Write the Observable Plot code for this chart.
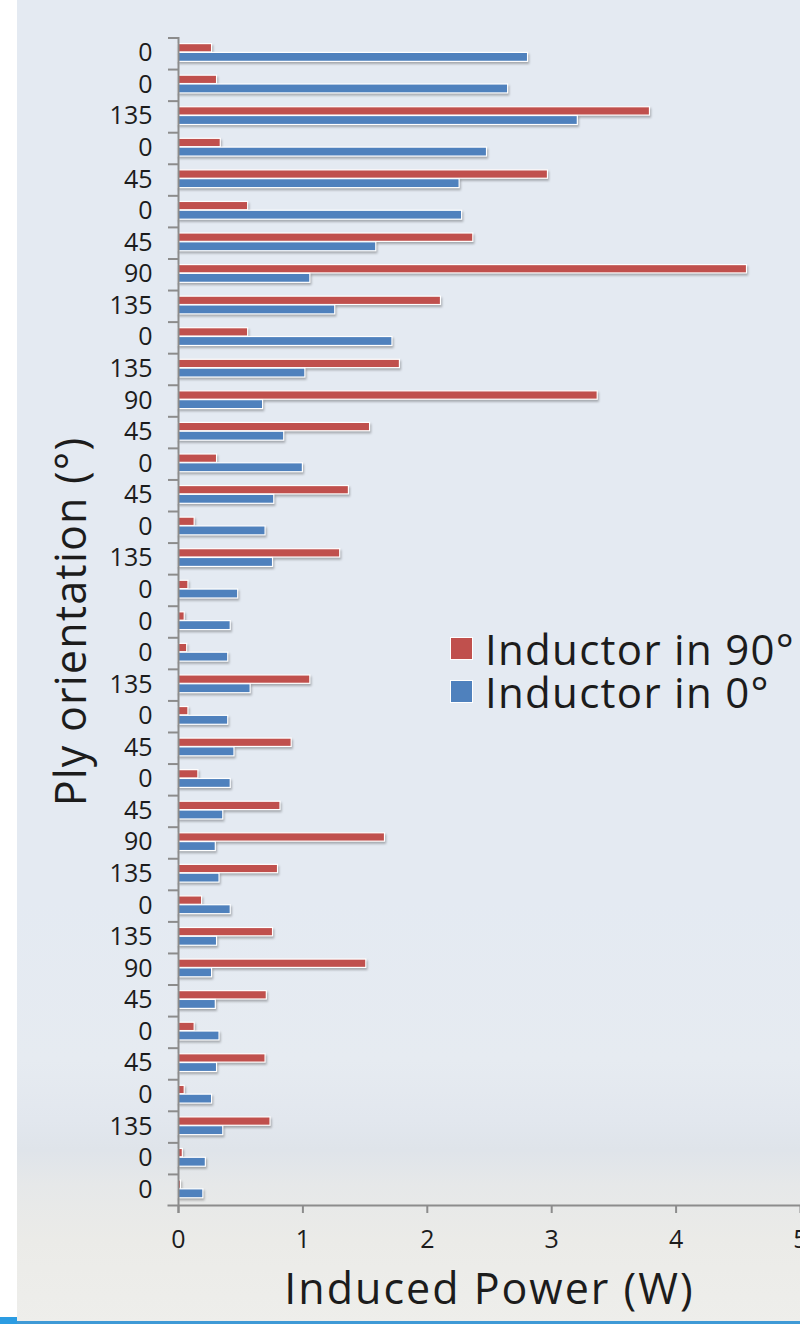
<!DOCTYPE html>
<html>
<head>
<meta charset="utf-8">
<script src="https://cdn.jsdelivr.net/npm/d3@7"></script>
<script src="https://cdn.jsdelivr.net/npm/@observablehq/plot@0.6"></script>
<style>
  html, body { margin: 0; padding: 0; background: #ffffff; }
  #wrap {
    position: relative; width: 800px; height: 1324px; overflow: hidden;
    background:
      linear-gradient(to right, #ffffff 0px, #ffffff 17px, rgba(255,255,255,0) 17px),
      linear-gradient(to bottom, #e4eaf2 0px, #e4eaf2 900px, #e6ebf1 1060px, #e2e7ee 1120px, #dfe4ea 1150px, #e6e8e9 1185px, #ebebe8 1240px, #eeeeeb 1324px);
  }
  #blueline { position: absolute; left: 0; top: 1321px; width: 800px; height: 3px; background: #3f9ad6; }
  #bluecorner { position: absolute; left: 0; top: 1317px; width: 17px; height: 7px; background: #2c9ce2; }
  #legend { position: absolute; left: 451px; top: 627px; font-family: "Open Sans", sans-serif; font-size: 42px; letter-spacing: 1.3px; color: #1c1c1c; line-height: 43px; }
  #legend .row { display: flex; align-items: center; height: 43px; white-space: nowrap; }
  #legend .row span { line-height: 43px; }
  #legend .sw { width: 21px; height: 21px; margin-right: 13px; box-shadow: 0 0 0 1px #ffffff; }
  g[aria-label="bar"] { filter: drop-shadow(1.5px 2px 1.2px rgba(0,0,0,0.28)); }
  g[aria-label="y-axis label"] text { letter-spacing: 1.2px; }
  g[aria-label="x-axis label"] text { letter-spacing: 2px; }
</style>
</head>
<body>
<div id="wrap">
  <div id="chart"></div>
  <div id="legend"></div>
  <div id="blueline"></div>
  <div id="bluecorner"></div>
</div>
<script>
// ---- data ----
const plyLabels = ["0","0","135","0","45","0","45","90","135","0","135","90","45","0","45","0","135","0","0","0","135","0","45","0","45","90","135","0","135","90","45","0","45","0","135","0","0"];
const inductor90 = [0.27,0.31,3.79,0.34,2.97,0.56,2.37,4.57,2.11,0.56,1.78,3.37,1.54,0.31,1.37,0.13,1.30,0.08,0.05,0.07,1.06,0.08,0.91,0.16,0.82,1.66,0.80,0.19,0.76,1.51,0.71,0.13,0.70,0.05,0.74,0.035,0.02];
const inductor0 = [2.81,2.65,3.21,2.48,2.26,2.28,1.59,1.06,1.26,1.72,1.02,0.68,0.85,1.00,0.77,0.70,0.76,0.48,0.42,0.40,0.58,0.40,0.45,0.42,0.36,0.30,0.33,0.42,0.31,0.27,0.30,0.33,0.31,0.27,0.36,0.22,0.20];
const xTicks = [0,1,2,3,4,5];
const seriesNames = ["Inductor in 90°", "Inductor in 0°"];
const seriesColors = ["#c0504d", "#4f81bd"];

const rows = plyLabels.map((label, i) => ({i, label, p90: inductor90[i], p0: inductor0[i]}));

const W = 800, H = 1324, mL = 178, mR = 0, mT = 37, mB = 119;
const step = (H - mT - mB) / plyLabels.length;
const axisGray = "#8c8c8c";
const font = "'Open Sans', sans-serif";

const chart = Plot.plot({
  width: W, height: H,
  marginLeft: mL, marginRight: mR, marginTop: mT, marginBottom: mB,
  style: {background: "transparent", fontFamily: font, color: "#1c1c1c", overflow: "visible"},
  x: {domain: [0, 5]},
  y: {type: "band", domain: d3.range(plyLabels.length), padding: 0, round: false},
  marks: [
    Plot.barX(rows, {y: "i", x: "p90", fill: seriesColors[0], stroke: "#ffffff", strokeWidth: 1.2, insetTop: 6.6, insetBottom: 16.6}),
    Plot.barX(rows, {y: "i", x: "p0", fill: seriesColors[1], stroke: "#ffffff", strokeWidth: 1.2, insetTop: 15.4, insetBottom: 7.2}),
    Plot.ruleX([0], {stroke: axisGray, strokeWidth: 2, insetBottom: -8}),
    Plot.frame({anchor: "bottom", stroke: axisGray, strokeWidth: 2, insetLeft: -10}),
    Plot.axisY({tickSize: 0, tickPadding: 26, tickFormat: i => plyLabels[i], fontSize: 25, label: null}),
    Plot.axisY({ticks: [], label: "Ply orientation (°)", labelAnchor: "center", labelArrow: "none", labelOffset: 123, fontSize: 43}),
    Plot.axisY({tickSize: 10, tickFormat: () => "", label: null, stroke: axisGray, strokeWidth: 2, dy: -step / 2 + 0.5}),
    Plot.axisX({ticks: xTicks, tickFormat: d3.format("d"), tickSize: 8, tickPadding: 17, fontSize: 25, label: null, stroke: axisGray, strokeWidth: 2}),
    Plot.axisX({ticks: [], label: "Induced Power (W)", labelAnchor: "center", labelArrow: "none", labelOffset: 98, fontSize: 43})
  ]
});
document.getElementById("chart").appendChild(chart);

const legend = document.getElementById("legend");
seriesNames.forEach((name, k) => {
  const row = document.createElement("div");
  row.className = "row";
  const sw = document.createElement("span");
  sw.className = "sw";
  sw.style.background = seriesColors[k];
  const t = document.createElement("span");
  t.textContent = name;
  row.appendChild(sw);
  row.appendChild(t);
  legend.appendChild(row);
});
</script>
</body>
</html>
